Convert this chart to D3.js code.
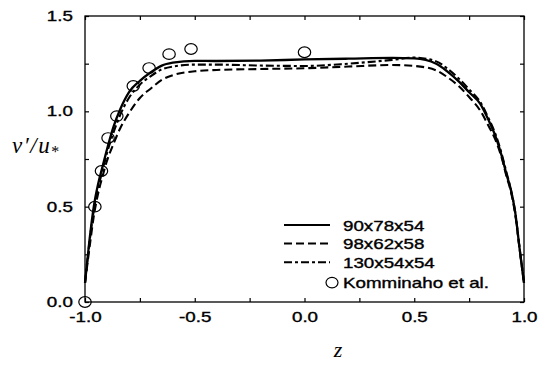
<!DOCTYPE html>
<html>
<head>
<meta charset="utf-8">
<script src="https://cdn.jsdelivr.net/npm/d3@7"></script>
<style>
  body { margin: 0; background: #fff; }
  svg { display: block; }
  .tick text { font-family: "Liberation Sans", Arial, sans-serif; font-size: 14px; fill: #000; stroke: #000; stroke-width: 0.35px; }
  .lab { stroke: #000; stroke-width: 0.35px; }
</style>
</head>
<body>
<svg id="chart" width="545" height="365"></svg>
<script>
// z positions shared by the three simulation curves
const zGrid = [-1, -0.98, -0.96, -0.94, -0.92, -0.9, -0.87, -0.84, -0.8, -0.75, -0.7, -0.65, -0.6,
  -0.5, -0.4, -0.2, 0, 0.2, 0.4, 0.5, 0.6, 0.65, 0.7, 0.75, 0.8, 0.84, 0.87, 0.9, 0.92, 0.94, 0.96, 0.98, 1];

const run90 = [0.10, 0.32, 0.50, 0.62, 0.71, 0.80, 0.92, 1.01, 1.10, 1.16, 1.205, 1.24, 1.255,
  1.265, 1.264, 1.266, 1.272, 1.276, 1.28, 1.278, 1.25, 1.21, 1.16, 1.10, 1.04, 0.95, 0.87, 0.76, 0.67, 0.59, 0.47, 0.28, 0.10];

const run98 = [0.10, 0.28, 0.45, 0.57, 0.66, 0.74, 0.83, 0.91, 0.99, 1.07, 1.12, 1.165, 1.19,
  1.21, 1.217, 1.222, 1.226, 1.235, 1.243, 1.238, 1.215, 1.18, 1.135, 1.075, 1.005, 0.92, 0.85, 0.75, 0.66, 0.58, 0.46, 0.28, 0.10];

const run130 = [0.10, 0.31, 0.48, 0.60, 0.69, 0.78, 0.89, 0.98, 1.07, 1.14, 1.185, 1.22, 1.235,
  1.245, 1.245, 1.24, 1.238, 1.25, 1.27, 1.282, 1.262, 1.225, 1.175, 1.115, 1.05, 0.96, 0.88, 0.77, 0.68, 0.59, 0.47, 0.28, 0.10];

// Komminaho et al. experimental points
const expZ = [-1.0, -0.955, -0.925, -0.895, -0.855, -0.78, -0.708, -0.617, -0.517, 0.0];
const expV = [0.0, 0.50, 0.687, 0.86, 0.975, 1.133, 1.227, 1.30, 1.327, 1.31];

const xTicks = [-1, -0.75, -0.5, -0.25, 0, 0.25, 0.5, 0.75, 1];
const yTicks = [0, 0.25, 0.5, 0.75, 1, 1.25, 1.5];

const seriesNames = ["90x78x54", "98x62x58", "130x54x54"];
const expName = "Komminaho et al.";

const margin = { top: 16, right: 21, bottom: 63, left: 85 };
const svgWidth = 545, svgHeight = 365;
const width = svgWidth - margin.left - margin.right,
  height = svgHeight - margin.top - margin.bottom;
const stretch = 1.34; // the original lettering is wide

const svg = d3.select("#chart");
const g = svg.append("g").attr("transform", "translate(" + margin.left + "," + margin.top + ")");

const x = d3.scaleLinear().domain([-1, 1]).range([0, width]);
const y = d3.scaleLinear().domain([0, 1.5]).range([height, 0]);

const fmt = (d) => (Math.abs(d * 2 - Math.round(d * 2)) < 1e-9 ? d.toFixed(1) : "");

function styleAxis(sel) {
  sel.select(".domain").remove();
  sel.selectAll(".tick line").attr("stroke", "#000").attr("stroke-width", 1.2);
}

g.append("g").attr("transform", "translate(0," + height + ")")
  .call(d3.axisBottom(x).tickValues(xTicks).tickSize(-4).tickPadding(10).tickFormat(fmt))
  .call(styleAxis)
  .selectAll("text").attr("transform", "scale(" + stretch + ",1)");

g.append("g")
  .call(d3.axisLeft(y).tickValues(yTicks).tickSize(-4).tickPadding(9).tickFormat(fmt))
  .call(styleAxis)
  .selectAll("text").attr("transform", "scale(" + stretch + ",1)");

g.append("g")
  .call(d3.axisTop(x).tickValues(xTicks).tickSize(-4).tickFormat(""))
  .call(styleAxis);

g.append("g").attr("transform", "translate(" + width + ",0)")
  .call(d3.axisRight(y).tickValues(yTicks).tickSize(-4).tickFormat(""))
  .call(styleAxis);

g.append("rect")
  .attr("width", width).attr("height", height)
  .attr("fill", "none").attr("stroke", "#000").attr("stroke-width", 1.3);

const dashes = [null, "8,4", "8,3,3,3"];
const line = d3.line()
  .x((d) => x(d[0]))
  .y((d) => y(d[1]))
  .curve(d3.curveMonotoneX);

[run90, run98, run130].forEach((vals, i) => {
  g.append("path")
    .datum(zGrid.map((z, k) => [z, vals[k]]))
    .attr("d", line)
    .attr("fill", "none")
    .attr("stroke", "#000")
    .attr("stroke-width", i === 0 ? 2.3 : 2.1)
    .attr("stroke-dasharray", dashes[i]);
});

g.selectAll(".exp")
  .data(expZ.map((z, k) => [z, expV[k]]))
  .enter().append("ellipse")
  .attr("class", "exp")
  .attr("cx", (d) => x(d[0]))
  .attr("cy", (d) => y(d[1]))
  .attr("rx", 6.2).attr("ry", 5.3)
  .attr("fill", "none").attr("stroke", "#000").attr("stroke-width", 1.2);

// legend
const legend = svg.append("g").attr("transform", "translate(284,225)");
seriesNames.forEach((name, i) => {
  const row = legend.append("g").attr("transform", "translate(0," + i * 18.6 + ")");
  row.append("line").attr("x1", 0).attr("x2", 46)
    .attr("stroke", "#000").attr("stroke-width", 2)
    .attr("stroke-dasharray", dashes[i]);
  row.append("text").attr("class", "lab")
    .attr("transform", "translate(59,5.5) scale(" + stretch + ",1)")
    .attr("font-family", "Liberation Sans, Arial, sans-serif")
    .attr("font-size", 14).text(name);
});
const expRow = legend.append("g").attr("transform", "translate(0," + 3 * 19.2 + ")");
expRow.append("ellipse").attr("cx", 48).attr("cy", 0).attr("rx", 6).attr("ry", 5.3)
  .attr("fill", "none").attr("stroke", "#000").attr("stroke-width", 1.2);
expRow.append("text").attr("class", "lab")
  .attr("transform", "translate(59,5.5) scale(" + stretch + ",1)")
  .attr("font-family", "Liberation Sans, Arial, sans-serif")
  .attr("font-size", 14).text(expName);

// axis titles
const yLab = svg.append("text")
  .attr("x", 12).attr("y", 153)
  .attr("font-family", "Liberation Serif, Times New Roman, serif")
  .attr("font-size", 23).attr("font-style", "italic")
  .attr("letter-spacing", 1.5);
yLab.append("tspan").text("v\u2032/u");
yLab.append("tspan").attr("dy", 4).attr("font-size", 16).attr("font-style", "normal").text("*");

svg.append("text")
  .attr("x", 338).attr("y", 357)
  .attr("text-anchor", "middle")
  .attr("font-family", "Liberation Serif, Times New Roman, serif")
  .attr("font-size", 22).attr("font-style", "italic")
  .text("z");
</script>
</body>
</html>
